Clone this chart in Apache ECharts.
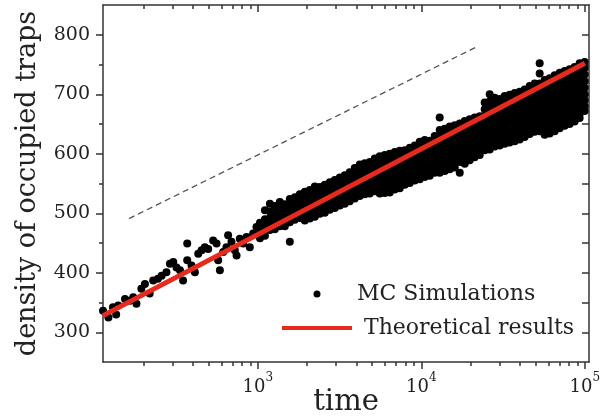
<!DOCTYPE html>
<html><head><meta charset="utf-8">
<script src="https://cdn.jsdelivr.net/npm/echarts@6/dist/echarts.min.js"></script>
<style>html,body{margin:0;padding:0;background:#fff}#c{width:602px;height:419px}</style>
</head><body><div id="c"></div>
<script>
// ---- axis ranges and ticks ----
const X_MIN = 113, X_MAX = 106000;
const Y_MIN = 250, Y_MAX = 850;
const yTickLabels = [300, 400, 500, 600, 700, 800];
const yMinorTicks = [350, 450, 550, 650, 750];
const yRightTicks = [300, 350, 400, 450, 500, 550, 600, 650, 700, 750, 800];
const xMajorExp = [3, 4, 5];
const xMinorTicks = [200, 300, 400, 500, 600, 700, 800, 900,
  2000, 3000, 4000, 5000, 6000, 7000, 8000, 9000,
  20000, 30000, 40000, 50000, 60000, 70000, 80000, 90000];

// ---- MC simulations: sparse early points ----
const earlyTime = [113, 122, 130, 136, 140, 154, 165, 173, 181, 194, 204, 218, 229, 245, 258, 276, 290, 304, 318, 334, 349, 370, 370, 393, 412, 432, 453, 474, 497, 533, 559, 572, 586, 614, 643, 658, 690, 723, 741, 776, 813, 853, 893, 936, 981];
const earlyValue = [336, 325, 342, 330, 345, 356, 353, 359, 348, 373, 381, 365, 387, 390, 395, 401, 415, 418, 409, 404, 387, 449, 421, 412, 401, 432, 438, 443, 440, 454, 449, 421, 404, 435, 443, 463, 452, 438, 429, 457, 449, 460, 443, 466, 477];

// ---- MC simulations: dense region (each time has several values) ----
const denseTime = [1030, 1105, 1185, 1270, 1363, 1462, 1569, 1683, 1806, 1938, 2079, 2231, 2393, 2568, 2755, 2956, 3171, 3402, 3650, 3916, 4202, 4508, 4837, 5190, 5568, 5974, 6409, 6877, 7378, 7916, 8493, 9112, 9776, 10490, 11250, 12070, 12950, 13900, 14910, 16000, 17170, 18420, 19760, 21200, 22750, 24400, 26180, 28090, 30140, 32340, 34700, 37230, 39940, 42850, 45980, 49330, 52920, 56780, 60920, 65360, 70130, 75240, 80720, 86610, 92920, 99700];
const denseValues = [
  [484, 474, 466, 458],
  [505, 490, 480, 471, 462],
  [516, 503, 492, 482, 472],
  [512, 500, 490, 481, 473],
  [519, 508, 497, 487, 478],
  [515, 505, 495, 486, 478],
  [524, 513, 503, 494, 485, 452],
  [527, 516, 506, 497, 489],
  [532, 521, 511, 501, 492],
  [536, 526, 515, 505, 496, 488],
  [539, 529, 519, 509, 500, 491],
  [545, 534, 523, 513, 503, 494],
  [544, 535, 525, 516, 507, 499],
  [548, 538, 528, 518, 509, 501],
  [552, 542, 532, 523, 514, 506],
  [556, 546, 536, 526, 517, 509],
  [560, 550, 540, 530, 521, 513],
  [564, 554, 544, 534, 525, 516],
  [569, 559, 548, 538, 529, 520],
  [576, 565, 554, 544, 534, 525],
  [582, 571, 560, 549, 539, 529],
  [584, 573, 562, 552, 542, 532],
  [586, 576, 565, 554, 543, 533],
  [592, 581, 570, 559, 548, 537],
  [596, 585, 574, 563, 552, 541, 533],
  [598, 587, 576, 565, 554, 543, 534],
  [600, 589, 578, 567, 556, 545, 535],
  [603, 592, 581, 570, 559, 549, 540],
  [605, 594, 583, 572, 561, 551, 542],
  [606, 596, 585, 575, 565, 555, 548],
  [610, 600, 589, 579, 569, 559, 551],
  [614, 603, 592, 582, 572, 563, 555],
  [620, 609, 598, 587, 576, 566, 557],
  [623, 612, 601, 590, 579, 569, 561],
  [622, 612, 601, 591, 581, 571, 563],
  [630, 619, 608, 597, 587, 577, 568],
  [661, 640, 629, 618, 607, 596, 585, 575, 568],
  [642, 632, 621, 610, 599, 588, 578, 571],
  [646, 635, 624, 613, 602, 591, 581, 574],
  [648, 637, 626, 615, 604, 593, 583, 577],
  [651, 640, 629, 618, 607, 596, 586, 568],
  [655, 644, 633, 622, 611, 600, 591, 583],
  [658, 647, 636, 625, 614, 604, 595, 589],
  [661, 650, 639, 628, 618, 609, 600, 594],
  [663, 652, 641, 631, 621, 612, 604, 598],
  [686, 675, 664, 653, 643, 633, 623, 614, 606],
  [700, 688, 676, 664, 653, 642, 632, 622, 613, 607],
  [694, 683, 672, 661, 650, 640, 630, 621, 612],
  [692, 682, 671, 660, 650, 640, 631, 622, 614],
  [697, 686, 675, 664, 654, 644, 634, 625, 617],
  [699, 688, 677, 666, 656, 646, 636, 627, 619],
  [702, 691, 680, 669, 658, 648, 638, 629, 621],
  [704, 693, 682, 671, 660, 650, 640, 631, 624],
  [708, 697, 686, 675, 664, 654, 644, 635, 628],
  [714, 703, 692, 681, 670, 659, 649, 640, 633],
  [718, 707, 696, 685, 674, 663, 653, 644, 637],
  [752, 735, 718, 707, 696, 685, 674, 664, 654, 645, 638],
  [724, 713, 702, 691, 680, 669, 658, 648, 639, 632],
  [727, 716, 705, 694, 683, 672, 661, 651, 642, 634],
  [732, 721, 710, 699, 688, 677, 666, 656, 646, 638],
  [736, 725, 714, 703, 692, 681, 670, 660, 650, 643],
  [739, 728, 717, 706, 695, 684, 673, 663, 654, 647],
  [742, 731, 720, 709, 698, 687, 676, 666, 657, 650],
  [746, 735, 724, 713, 702, 691, 680, 670, 661, 654],
  [752, 741, 730, 719, 708, 697, 686, 676, 667, 660],
  [754, 744, 733, 722, 711, 700, 690, 680, 672]
];

// ---- theoretical line and dashed guide ----
const theoryTime = [113, 100000];
const theoryValue = [328, 752];
const guideTime = [163, 22300];
const guideValue = [491, 781];

const seriesNames = ['MC Simulations', 'Theoretical results'];

// ---- build ----
const FONT = 'DejaVu Serif';
const AXC = '#333';
const LW = 1.5;
const lg = Math.log10;
const mcData = [];
earlyTime.forEach((t, i) => mcData.push([t, earlyValue[i]]));
denseTime.forEach((t, i) => denseValues[i].forEach(v => mcData.push([t, v])));
const theoryData = theoryTime.map((t, i) => [t, theoryValue[i]]);
const guideData = guideTime.map((t, i) => [t, guideValue[i]]);

const LXMIN = lg(X_MIN), LXMAX = lg(X_MAX);
const xMinorLog = xMinorTicks.map(lg);
const lineStyle = { color: AXC, width: LW };
const noSplit = { show: false };

function tickAxisX(pos, ticks, len, inside, showLine, extra) {
  return Object.assign({
    type: 'value', position: pos, min: LXMIN, max: LXMAX, gridIndex: 0,
    axisLine: { show: showLine, onZero: false, lineStyle },
    axisTick: { show: true, customValues: ticks, length: len, inside, lineStyle },
    axisLabel: { show: false },
    splitLine: noSplit
  }, extra || {});
}

const chart = echarts.init(document.getElementById('c'));
chart.setOption({
  animation: false,
  backgroundColor: '#fff',
  grid: { left: 103, right: 13, top: 5, bottom: 57, containLabel: false, outerBoundsMode: 'none' },
  legend: {
    orient: 'vertical', left: 280, top: 282, padding: 0,
    itemWidth: 70, itemHeight: 7, itemGap: 10, selectedMode: false,
    textStyle: { fontFamily: FONT, fontSize: 22, color: '#222', lineHeight: 24 },
    data: [
      { name: seriesNames[0], icon: 'circle' },
      { name: seriesNames[1], itemStyle: { opacity: 0 }, lineStyle: { width: 4, color: '#e62a1e' }, textStyle: { padding: [0, 0, 0, 7] } }
    ]
  },
  xAxis: [
    { type: 'log', logBase: 10, min: X_MIN, max: X_MAX, gridIndex: 0, show: false },
    tickAxisX('bottom', xMajorExp, 7, false, true, {
      name: 'time', nameLocation: 'middle', nameGap: 26, nameMoveOverlap: false,
      nameTextStyle: { fontFamily: FONT, fontSize: 29, color: '#222' },
      axisLabel: {
        show: true, customValues: xMajorExp, margin: 10,
        formatter: v => '{b|10}{s|' + Math.round(v) + '}',
        rich: {
          b: { fontFamily: FONT, fontSize: 18, color: '#222', verticalAlign: 'bottom', lineHeight: 24 },
          s: { fontFamily: FONT, fontSize: 12, color: '#222', verticalAlign: 'top', lineHeight: 24 }
        }
      }
    }),
    tickAxisX('bottom', xMinorLog, 4, false, false),
    tickAxisX('top', xMajorExp, 7, true, true),
    tickAxisX('top', xMinorLog, 4, true, false)
  ],
  yAxis: [
    {
      type: 'value', position: 'left', min: Y_MIN, max: Y_MAX, gridIndex: 0,
      axisLine: { show: true, onZero: false, lineStyle },
      axisTick: { show: true, customValues: yTickLabels, length: 7, lineStyle },
      axisLabel: { show: true, customValues: yTickLabels, margin: 13, fontFamily: FONT, fontSize: 19, color: '#222' },
      splitLine: noSplit,
      name: 'density of occupied traps', nameLocation: 'middle', nameGap: 62, nameMoveOverlap: false,
      nameTextStyle: { fontFamily: FONT, fontSize: 27, color: '#222' }
    },
    {
      type: 'value', position: 'left', min: Y_MIN, max: Y_MAX, gridIndex: 0,
      axisLine: { show: false, onZero: false },
      axisTick: { show: true, customValues: yMinorTicks, length: 4, lineStyle },
      axisLabel: { show: false }, splitLine: noSplit
    },
    {
      type: 'value', position: 'right', min: Y_MIN, max: Y_MAX, gridIndex: 0,
      axisLine: { show: true, onZero: false, lineStyle },
      axisTick: { show: true, customValues: yRightTicks, length: 7, inside: true, lineStyle },
      axisLabel: { show: false }, splitLine: noSplit
    }
  ],
  series: [
    {
      name: seriesNames[0], type: 'scatter', xAxisIndex: 0, yAxisIndex: 0,
      symbol: 'circle', symbolSize: 8, itemStyle: { color: '#000', opacity: 1 },
      data: mcData, z: 2, silent: true
    },
    {
      name: seriesNames[1], type: 'line', xAxisIndex: 0, yAxisIndex: 0,
      showSymbol: false, symbol: 'none',
      lineStyle: { color: '#e62a1e', width: 5 }, itemStyle: { color: '#e62a1e' },
      data: theoryData, z: 4, silent: true
    },
    {
      name: 'guide', type: 'line', xAxisIndex: 0, yAxisIndex: 0,
      showSymbol: false, symbol: 'none',
      lineStyle: { color: '#555', width: 1.3, type: [6, 4] },
      data: guideData, z: 3, silent: true
    }
  ]
});
</script>
</body></html>
